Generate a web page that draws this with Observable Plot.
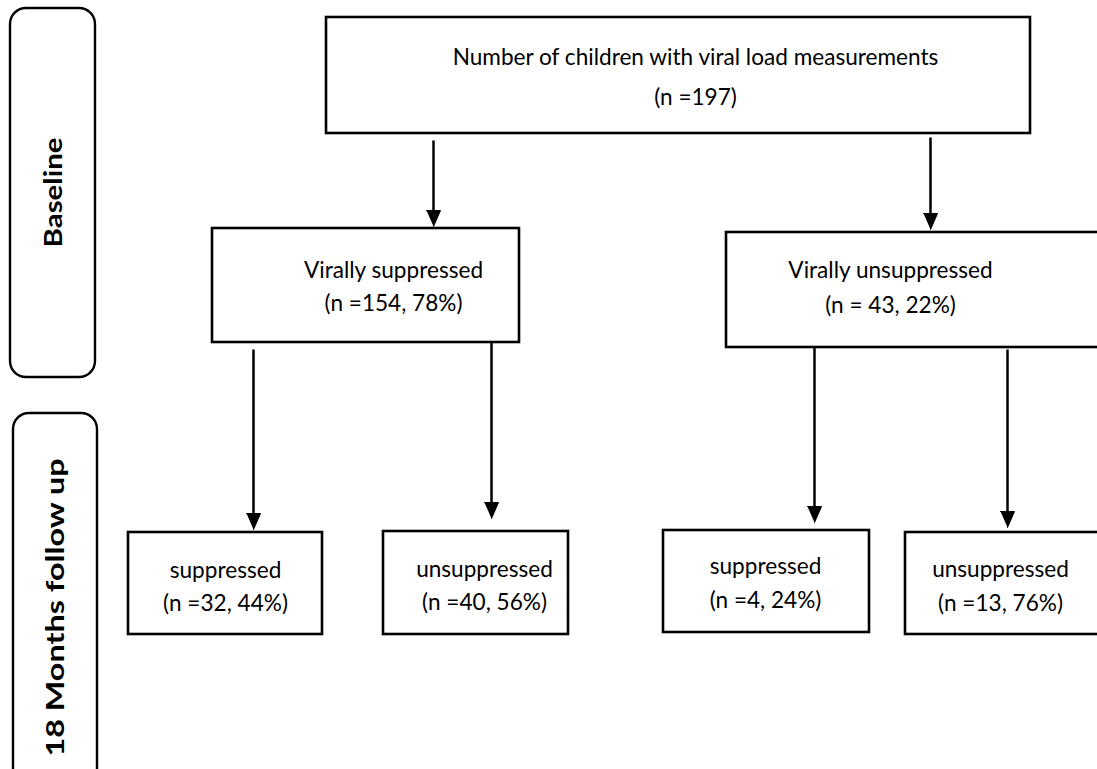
<!DOCTYPE html>
<html>
<head>
<meta charset="utf-8">
<script src="https://cdn.jsdelivr.net/npm/d3@7"></script>
<script src="https://cdn.jsdelivr.net/npm/@observablehq/plot@0.6"></script>
<style>
  html, body { margin: 0; padding: 0; background: #fff; }
  #chart svg { display: block; }
</style>
</head>
<body>
<div id="chart"></div>
<script>
// ---- data ----
const stages = ["Baseline", "18 Months follow up"];
const nodeTitles = [
  "Number of children with viral load measurements",
  "Virally suppressed",
  "Virally unsuppressed",
  "suppressed",
  "unsuppressed",
  "suppressed",
  "unsuppressed"
];
const nodeDetails = [
  "(n =197)",
  "(n =154, 78%)",
  "(n = 43, 22%)",
  "(n =32, 44%)",
  "(n =40, 56%)",
  "(n =4, 24%)",
  "(n =13, 76%)"
];
const edgeFrom = [0, 0, 1, 1, 2, 2];
const edgeTo   = [1, 2, 3, 4, 5, 6];

// ---- layout (diagram geometry) ----
const W = 1097, H = 769;
const nodeBox = [
  [326, 1030, 17, 133],
  [212, 519, 228, 342],
  [726, 1099, 232, 347],
  [128, 322, 532, 634],
  [383, 568, 531, 634],
  [663, 869, 530, 632],
  [905, 1099, 532, 634]
];
const nodeText = [[695, 57, 97], [393, 270, 303], [890, 270, 305], [225, 570, 603], [484, 569, 602], [765, 566, 600], [1000, 569, 603]];
const edgeGeom = [[433, 140, 226], [930, 137, 229], [253, 349, 529], [491, 342, 518], [814, 347, 522], [1007, 349, 527]];
const stageBox = [[10, 95, 8, 377], [13, 97, 413, 790]];
const stageText = [[53, 192, 110], [55, 607, 298]];

const nodes = nodeTitles.map((t, i) => ({
  title: t, detail: nodeDetails[i],
  x1: nodeBox[i][0], x2: nodeBox[i][1], y1: nodeBox[i][2], y2: nodeBox[i][3],
  tx: nodeText[i][0], ty1: nodeText[i][1], ty2: nodeText[i][2]
}));
const edges = edgeFrom.map((f, i) => ({from: f, to: edgeTo[i], x: edgeGeom[i][0], y1: edgeGeom[i][1], y2: edgeGeom[i][2]}));
const heads = edges.flatMap((e, i) => [
  {id: i, x: e.x - 7, y: e.y2 - 16},
  {id: i, x: e.x + 7, y: e.y2 - 16},
  {id: i, x: e.x, y: e.y2}
]);
const stageData = stages.map((s, i) => ({
  label: s, x1: stageBox[i][0], x2: stageBox[i][1], y1: stageBox[i][2], y2: stageBox[i][3],
  tx: stageText[i][0], ty: stageText[i][1], len: stageText[i][2]
}));

const font = "Lato, 'Open Sans', sans-serif";

const chart = Plot.plot({
  width: W, height: H,
  margin: 0,
  x: {domain: [0, W], axis: null},
  y: {domain: [0, H], axis: null, reverse: true},
  style: {fontFamily: font, background: "#fff"},
  marks: [
    Plot.rect(stageData, {x1: "x1", x2: "x2", y1: "y1", y2: "y2", fill: "white", stroke: "black", strokeWidth: 2.4, rx: 16}),
    Plot.text(stageData, {x: "tx", y: "ty", text: "label", rotate: -90, fontSize: 25, fontWeight: "bold", fill: "black"}),
    Plot.rect(nodes, {x1: "x1", x2: "x2", y1: "y1", y2: "y2", fill: "white", stroke: "black", strokeWidth: 2.6}),
    Plot.text(nodes, {x: "tx", y: "ty1", text: "title", fontSize: 22.6, fill: "black"}),
    Plot.text(nodes, {x: "tx", y: "ty2", text: "detail", fontSize: 22.6, fill: "black"}),
    Plot.link(edges, {x1: "x", x2: "x", y1: "y1", y2: d => d.y2 - 12, stroke: "black", strokeWidth: 2.5}),
    Plot.line(heads, {x: "x", y: "y", z: "id", fill: "black", stroke: "black", strokeWidth: 1})
  ]
});
// stretch the stage labels to their measured length
d3.select(chart).selectAll("text").each(function () {
  const s = stageData.find(d => d.label === this.textContent);
  if (s) d3.select(this).attr("textLength", s.len).attr("lengthAdjust", "spacingAndGlyphs");
});
document.getElementById("chart").appendChild(chart);
</script>
</body>
</html>
